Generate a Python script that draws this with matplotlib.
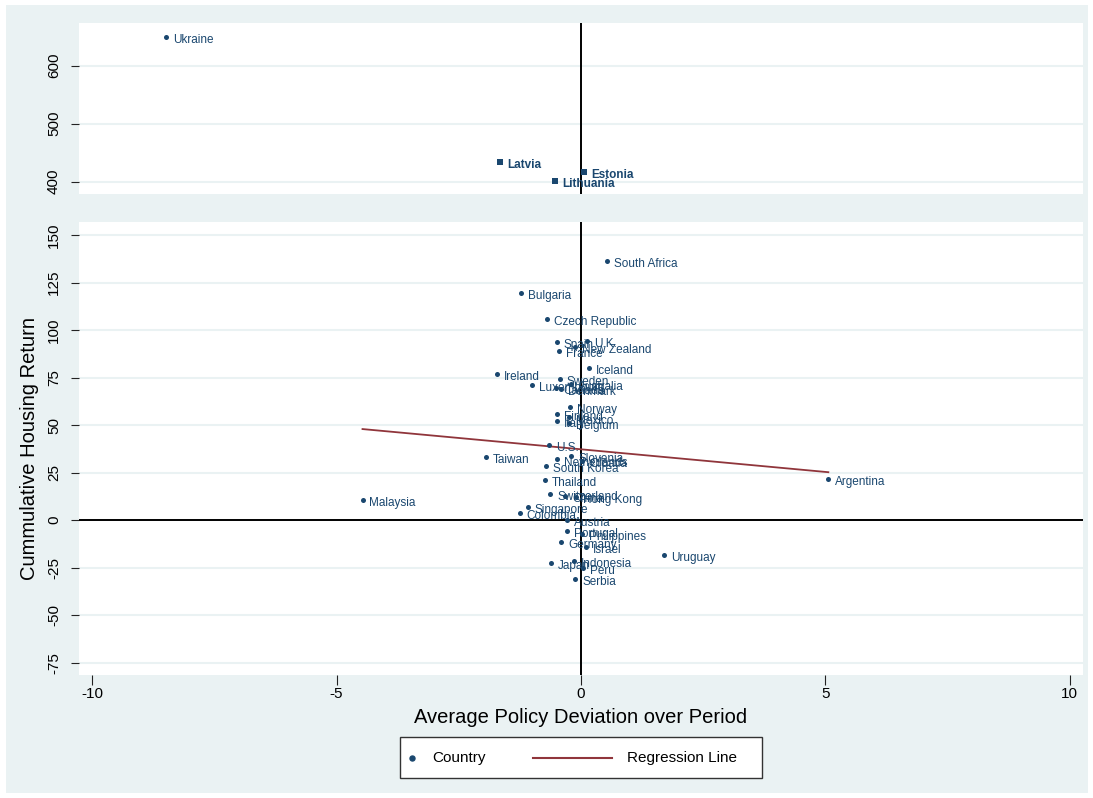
import matplotlib
matplotlib.use("Agg")
import matplotlib.pyplot as plt
from matplotlib.patches import Rectangle
from matplotlib.lines import Line2D

plt.rcParams['font.family'] = ['Liberation Sans', 'DejaVu Sans']
plt.rcParams['axes.unicode_minus'] = False

# ---------------- data ----------------
top_names = ["Ukraine", "Latvia", "Estonia", "Lithuania"]
top_x = [-8.48, -1.65, 0.07, -0.53]
top_y = [649.5, 434.0, 416.7, 401.2]

names = ["South Africa", "Bulgaria", "Czech Republic", "Spain", "U.K.", "New Zealand",
         "France", "Iceland", "Ireland", "Sweden", "Luxembourg", "Australia", "Canada",
         "Denmark", "Norway", "Finland", "Mexico", "Italy", "Belgium", "U.S.", "Taiwan",
         "Slovenia", "Netherlands", "Croatia", "South Korea", "Thailand", "Switzerland",
         "China", "Hong Kong", "Singapore", "Colombia", "Malaysia", "Argentina", "Austria",
         "Portugal", "Philippines", "Germany", "Israel", "Uruguay", "Indonesia", "Japan",
         "Peru", "Serbia"]
x_dev = [0.54, -1.22, -0.69, -0.49, 0.13, -0.12,
         -0.44, 0.16, -1.71, -0.43, -1.01, -0.20, -0.51,
         -0.40, -0.22, -0.49, -0.24, -0.49, -0.24, -0.66, -1.94,
         -0.20, -0.50, 0.03, -0.72, -0.73, -0.63,
         -0.32, -0.10, -1.09, -1.25, -4.47, 5.06, -0.29,
         -0.29, 0.03, -0.41, 0.11, 1.70, -0.14, -0.61,
         0.05, -0.12]
y_ret = [136.2, 119.4, 105.7, 93.5, 94.2, 91.0,
         89.1, 79.8, 76.8, 74.5, 71.0, 71.5, 69.6,
         68.9, 59.3, 55.8, 54.0, 52.2, 51.0, 39.5, 33.1,
         33.7, 31.9, 31.0, 28.4, 21.0, 13.5,
         12.8, 12.3, 6.7, 3.8, 10.5, 21.6, 0.0,
         -5.6, -7.4, -11.7, -14.0, -18.4, -21.4, -22.8,
         -25.4, -31.2]

reg_x = [-4.47, 5.06]
reg_y = [47.9, 25.2]

x_ticks = [-10, -5, 0, 5, 10]
top_ticks = [400, 500, 600]
bot_ticks = [-75, -50, -25, 0, 25, 50, 75, 100, 125, 150]

# ---------------- style ----------------
BG = '#eaf2f3'
NAVY = '#1a476f'
RED = '#90353b'
W, H = 1093, 798

fig = plt.figure(figsize=(W / 100, H / 100), dpi=100)
fig.patch.set_facecolor('white')
fig.add_artist(Rectangle((6 / W, 5 / H), (1088 - 6) / W, (793 - 5) / H,
                         transform=fig.transFigure, facecolor=BG, edgecolor='none', zorder=-10))

left, right = 79 / W, 1083 / W
ax_top = fig.add_axes([left, 1 - 194 / H, right - left, (194 - 22.7) / H])
ax_bot = fig.add_axes([left, 1 - 675 / H, right - left, (675 - 221.7) / H])

XLIM = (-10.27, 10.27)
for ax in (ax_top, ax_bot):
    ax.set_facecolor('white')
    for s in ax.spines.values():
        s.set_visible(False)
    ax.set_xlim(*XLIM)
    ax.set_axisbelow(True)
    ax.grid(axis='y', color=BG, lw=1.5)
    ax.axvline(0, color='black', lw=1.4, zorder=1)
    ax.tick_params(axis='y', direction='out', length=6, width=0.8, color='#222222',
                   labelsize=11, pad=7)

ax_top.set_ylim(378.8, 674)
ax_top.set_yticks(top_ticks)
ax_top.set_xticks([])
ax_bot.set_ylim(-81.5, 157)
ax_bot.set_yticks(bot_ticks)
ax_bot.set_xticks(x_ticks)
ax_bot.tick_params(axis='x', direction='out', length=7, width=0.8, color='#222222',
                   labelsize=11, pad=2)
ax_bot.axhline(0, color='black', lw=1.4, zorder=1)

for ax in (ax_top, ax_bot):
    plt.setp(ax.get_yticklabels(), rotation=90, va='center')

# top panel points
for i, (n, x, y) in enumerate(zip(top_names, top_x, top_y)):
    if i == 0:
        ax_top.scatter([x], [y], s=13, color=NAVY, zorder=3, linewidths=0)
        ax_top.annotate(n, (x, y), xytext=(5, -2.2), textcoords='offset points',
                        va='center', ha='left', fontsize=8.5, color=NAVY)
    else:
        ax_top.scatter([x], [y], s=22, marker='s', color=NAVY, zorder=3, linewidths=0)
        ax_top.annotate(n, (x, y), xytext=(5, -2.2), textcoords='offset points',
                        va='center', ha='left', fontsize=8.5, color=NAVY, fontweight='bold')

# bottom panel points
ax_bot.scatter(x_dev, y_ret, s=13, color=NAVY, zorder=3, linewidths=0)
for n, x, y in zip(names, x_dev, y_ret):
    ax_bot.annotate(n, (x, y), xytext=(5, -2.2), textcoords='offset points',
                    va='center', ha='left', fontsize=8.5, color=NAVY, zorder=4)

ax_bot.plot(reg_x, reg_y, color=RED, lw=1.3, zorder=2)

ax_bot.set_xlabel("Average Policy Deviation over Period", fontsize=14.5, labelpad=5)
ax_bot.set_ylabel("Cummulative Housing Return", fontsize=14.5, labelpad=6)

# legend drawn in figure coordinates
fig.add_artist(Rectangle((400 / W, 1 - 778 / H), 362 / W, 41 / H, transform=fig.transFigure,
                         facecolor='white', edgecolor='#333333', lw=1.0, zorder=5))
ly = 1 - 758 / H
fig.add_artist(Line2D([412 / W], [ly], transform=fig.transFigure, marker='o', markersize=3.6,
                      color=NAVY, linestyle='none', zorder=6))
fig.text(432 / W, ly, "Country", fontsize=11, va='center', ha='left', zorder=6)
fig.add_artist(Line2D([533 / W, 612 / W], [ly, ly], transform=fig.transFigure, color=RED,
                      lw=1.5, zorder=6))
fig.text(627 / W, ly, "Regression Line", fontsize=11, va='center', ha='left', zorder=6)

fig.savefig("out.png", dpi=100)
